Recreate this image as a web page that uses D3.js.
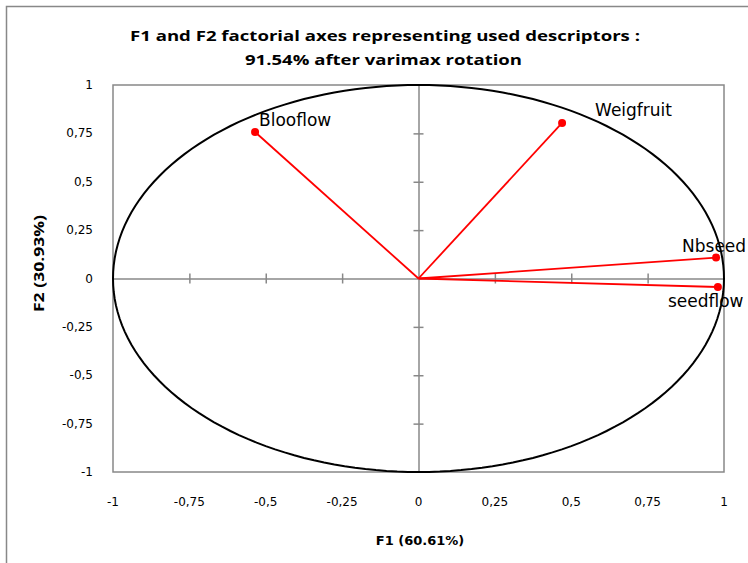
<!DOCTYPE html>
<html>
<head>
<meta charset="utf-8">
<script src="https://cdn.jsdelivr.net/npm/d3@7"></script>
<style>
  body { margin: 0; background: #fff; }
  .tick-label { font-family: "DejaVu Sans", Verdana, sans-serif; font-size: 12px; fill: #000; }
  .var-label { font-family: "DejaVu Sans", Verdana, sans-serif; font-size: 17px; fill: #000; }
  .title { font-family: "Open Sans", Lato, sans-serif; font-size: 15px; font-weight: bold; fill: #000; }
  .axis-title { font-family: "DejaVu Sans", Verdana, sans-serif; font-size: 13px; font-weight: bold; fill: #000; }
  .axis-title2 { font-family: "Open Sans", Lato, sans-serif; font-size: 14px; font-weight: bold; fill: #000; }
</style>
</head>
<body>
<svg id="chart"></svg>
<script>
// variables and their loadings on F1 / F2
var variables = ["Blooflow", "Weigfruit", "Nbseed", "seedflow"]
var f1Values = [-0.535, 0.47, 0.974, 0.98]
var f2Values = [0.757, 0.804, 0.108, -0.044]

var tickValues = [-1, -0.75, -0.5, -0.25, 0, 0.25, 0.5, 0.75, 1]

// manual label placement (pixels from the point to the text baseline start)
var labelOffsets = {
  Blooflow: [4, -6],
  Weigfruit: [33, -7],
  Nbseed: [-34, -6],
  seedflow: [-50, 20]
}

var width = 748, height = 563
var margin = {top: 85, right: 24, bottom: 91, left: 113}

var svg = d3.select("#chart")
  .attr("width", width)
  .attr("height", height)

// outer chart border (cropped by the picture on right / bottom)
svg.append("rect")
  .attr("x", 6.5).attr("y", 6.5)
  .attr("width", 800).attr("height", 600)
  .attr("fill", "none")
  .attr("stroke", "#888")
  .attr("stroke-width", 1.5)

var x = d3.scaleLinear().domain([-1, 1]).range([margin.left, width - margin.right])
var y = d3.scaleLinear().domain([-1, 1]).range([height - margin.bottom, margin.top])

// plot area
svg.append("rect")
  .attr("x", x(-1)).attr("y", y(1))
  .attr("width", x(1) - x(-1)).attr("height", y(-1) - y(1))
  .attr("fill", "none")
  .attr("stroke", "#888")
  .attr("stroke-width", 1.5)

// zero axes with crossing ticks
var inner = tickValues.filter(d => d !== 0 && Math.abs(d) !== 1)

var gx = svg.append("g").attr("transform", "translate(0," + y(0) + ")")
  .call(d3.axisBottom(x).tickValues(inner).tickSizeOuter(0).tickFormat(""))
gx.selectAll(".tick line").attr("y1", -5).attr("y2", 5)

var gy = svg.append("g").attr("transform", "translate(" + x(0) + ",0)")
  .call(d3.axisLeft(y).tickValues(inner).tickSizeOuter(0).tickFormat(""))
gy.selectAll(".tick line").attr("x1", -5).attr("x2", 5)

svg.selectAll(".domain, .tick line").attr("stroke", "#888").attr("stroke-width", 1.5)

var fmt = d => String(d).replace(".", ",")

// tick labels at the plot edges
svg.selectAll(".xlab")
  .data(tickValues)
  .enter().append("text")
  .attr("class", "tick-label")
  .attr("x", d => x(d))
  .attr("y", y(-1) + 34)
  .attr("text-anchor", "middle")
  .text(fmt)

svg.selectAll(".ylab")
  .data(tickValues)
  .enter().append("text")
  .attr("class", "tick-label")
  .attr("x", x(-1) - 20)
  .attr("y", d => y(d) + 4)
  .attr("text-anchor", "end")
  .text(fmt)

// correlation circle
var angles = d3.range(0, 361, 2)
var circle = d3.line()
  .x(a => x(Math.cos(a * Math.PI / 180)))
  .y(a => y(Math.sin(a * Math.PI / 180)))
svg.append("path")
  .datum(angles)
  .attr("d", circle)
  .attr("fill", "none")
  .attr("stroke", "#000")
  .attr("stroke-width", 2)

var data = variables.map((v, i) => ({name: v, f1: f1Values[i], f2: f2Values[i]}))

// vectors
svg.selectAll(".vec")
  .data(data)
  .enter().append("line")
  .attr("x1", x(0)).attr("y1", y(0))
  .attr("x2", d => x(d.f1)).attr("y2", d => y(d.f2))
  .attr("stroke", "#ff0000")
  .attr("stroke-width", 1.8)

svg.selectAll(".dot")
  .data(data)
  .enter().append("circle")
  .attr("cx", d => x(d.f1)).attr("cy", d => y(d.f2))
  .attr("r", 4)
  .attr("fill", "#ff0000")

svg.selectAll(".vlab")
  .data(data)
  .enter().append("text")
  .attr("class", "var-label")
  .attr("x", d => x(d.f1) + labelOffsets[d.name][0])
  .attr("y", d => y(d.f2) + labelOffsets[d.name][1])
  .text(d => d.name)

// titles
svg.append("text").attr("class", "title")
  .attr("x", 130).attr("y", 41)
  .attr("textLength", 510).attr("lengthAdjust", "spacingAndGlyphs")
  .text("F1 and F2 factorial axes representing  used descriptors :")
svg.append("text").attr("class", "title")
  .attr("x", 245).attr("y", 65)
  .attr("textLength", 277).attr("lengthAdjust", "spacingAndGlyphs")
  .text("91.54% after varimax rotation")

svg.append("text").attr("class", "axis-title")
  .attr("x", 420).attr("y", 545).attr("text-anchor", "middle")
  .text("F1 (60.61%)")

svg.append("text").attr("class", "axis-title2")
  .attr("transform", "translate(44,312) rotate(-90)")
  .attr("textLength", 97).attr("lengthAdjust", "spacingAndGlyphs")
  .text("F2 (30.93%)")
</script>
</body>
</html>
